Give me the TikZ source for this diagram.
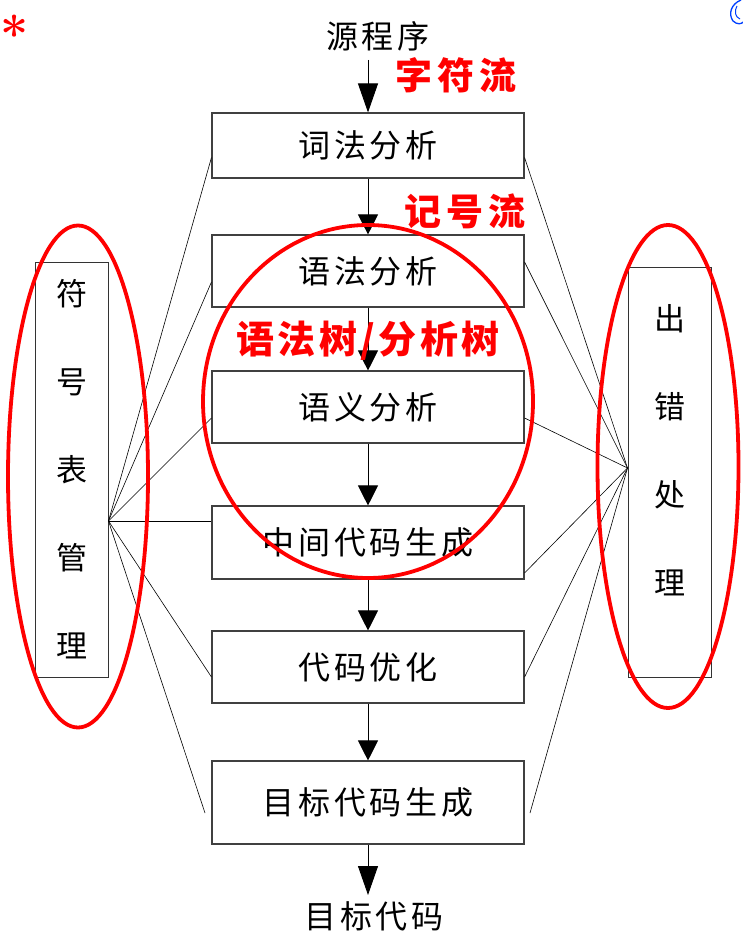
\documentclass[tikz,border=0pt]{standalone}
\usepackage{fontspec}
\usetikzlibrary{arrows.meta,calc}
\newfontfamily\cjk{Noto Sans CJK SC}[LetterSpace=12]
\newfontfamily\cjkside{Noto Sans CJK SC}
\newfontfamily\cjkred{Noto Sans CJK SC}[LetterSpace=14]
\newfontfamily\cjkredw{Noto Sans CJK SC}[LetterSpace=9]
\tikzset{
  stage/.style={draw=black!75, line width=1.1pt, minimum width=312pt, inner sep=0pt, font=\cjk\fontsize{32}{32}\selectfont},
  sidebox/.style={draw=black!80, line width=1pt, inner sep=0pt},
  sidetext/.style={align=center, inner sep=0pt, font=\cjkside\fontsize{31}{88}\selectfont},
  flow/.style={draw=black, line width=0.9pt, -{Triangle[width=20pt,length=20pt]}},
  flowlong/.style={draw=black, line width=0.9pt, -{Triangle[width=20pt,length=29pt]}},
  link/.style={draw=black, line width=0.6pt},
  redlabel/.style={text=red, font=\cjkred\bfseries\fontsize{37}{37}\selectfont, inner sep=0pt},
  plain/.style={font=\cjk\fontsize{32}{32}\selectfont, inner sep=0pt},
  ring/.style={draw=red, line width=3.8pt}
}
\begin{document}
\begin{tikzpicture}[x=1pt,y=-1pt]
\useasboundingbox (0,0) rectangle (743,952);
\fill[white] (0,0) rectangle (743,952);

% star and corner logo fragment
\node[text=red, font=\fontsize{50}{50}\selectfont\bfseries, inner sep=0pt] (star) at (15,34) {*};
\draw[blue!75!cyan, line width=1.3pt] (741,0) .. controls (731,4) and (728,14) .. (733,21) .. controls (737,25) and (742,24) .. (743,22);
\draw[blue!75!cyan, line width=1pt] (737,6) .. controls (734,11) and (735,17) .. (740,19);

% pipeline
\node[plain] (src) at (378,36) {源程序};
\node[stage, minimum height=65pt] (b1) at (368,145.5) {词法分析};
\node[stage, minimum height=72pt] (b2) at (368,271) {语法分析};
\node[stage, minimum height=72pt] (b3) at (368,407) {语义分析};
\node[stage, minimum height=73pt] (b4) at (368,542.5) {中间代码生成};
\node[stage, minimum height=72pt] (b5) at (368,667) {代码优化};
\node[stage, minimum height=83pt] (b6) at (368,802.5) {目标代码生成};
\node[plain] (dst) at (374,916) {目标代码};

\coordinate (s0) at (368,60);
\coordinate (t7) at (368,895);
\draw[flowlong] (s0) -- (b1.north);
\draw[flow] (b1.south) -- (b2.north);
\draw[flow] (b2.south) -- (b3.north);
\draw[flow] (b3.south) -- (b4.north);
\draw[flow] (b4.south) -- (b5.north);
\draw[flow] (b5.south) -- (b6.north);
\draw[flowlong] (b6.south) -- (t7);

% side boxes
\node[sidebox, minimum width=73pt, minimum height=415pt] (sym) at (71.5,469.5) {};
\node[sidetext] (symtext) at (72,469) {符\\号\\表\\管\\理};
\node[sidebox, minimum width=83pt, minimum height=410pt] (err) at (669.5,472) {};
\node[sidetext] (errtext) at (670,450) {出\\错\\处\\理};

% connectors from symbol table
\coordinate (L) at ([yshift=-51.5pt]sym.east);
\coordinate (L6) at (205,813);
\draw[link] (L) -- ([yshift=21pt]b1.south west);
\draw[link] (L) -- ([yshift=-11pt]b2.west);
\draw[link] (L) -- ([yshift=-11pt]b3.west);
\draw[link] (L) -- (L -| b4.west);
\draw[link] (L) -- ([yshift=-10pt]b5.west);
\draw[link] (L) -- (L6);

% connectors to error handling
\coordinate (R) at ([yshift=4pt]err.west);
\coordinate (R6) at (530,813);
\draw[link] (R) -- ([yshift=21pt]b1.south east);
\draw[link] (R) -- ([yshift=9pt]b2.east);
\draw[link] (R) -- ([yshift=-11pt]b3.east);
\draw[link] (R) -- ([yshift=-30.5pt]b4.east);
\draw[link] (R) -- ([yshift=-10pt]b5.east);
\draw[link] (R) -- (R6);

% red ellipses
\draw[ring] (78,476.5) ellipse [x radius=70pt, y radius=251pt];
\draw[ring] (668,466.5) ellipse [x radius=70.5pt, y radius=241.5pt];
\draw[ring] (368,401.5) ellipse [x radius=165pt, y radius=176.5pt];

% red labels
\node[redlabel] (l1) at (456,75) {字符流};
\node[redlabel] (l2) at (465,211) {记号流};
\node[redlabel, font=\cjkredw\bfseries\fontsize{38}{38}\selectfont] (l3) at (368,341) {语法树/分析树};
\end{tikzpicture}
\end{document}
